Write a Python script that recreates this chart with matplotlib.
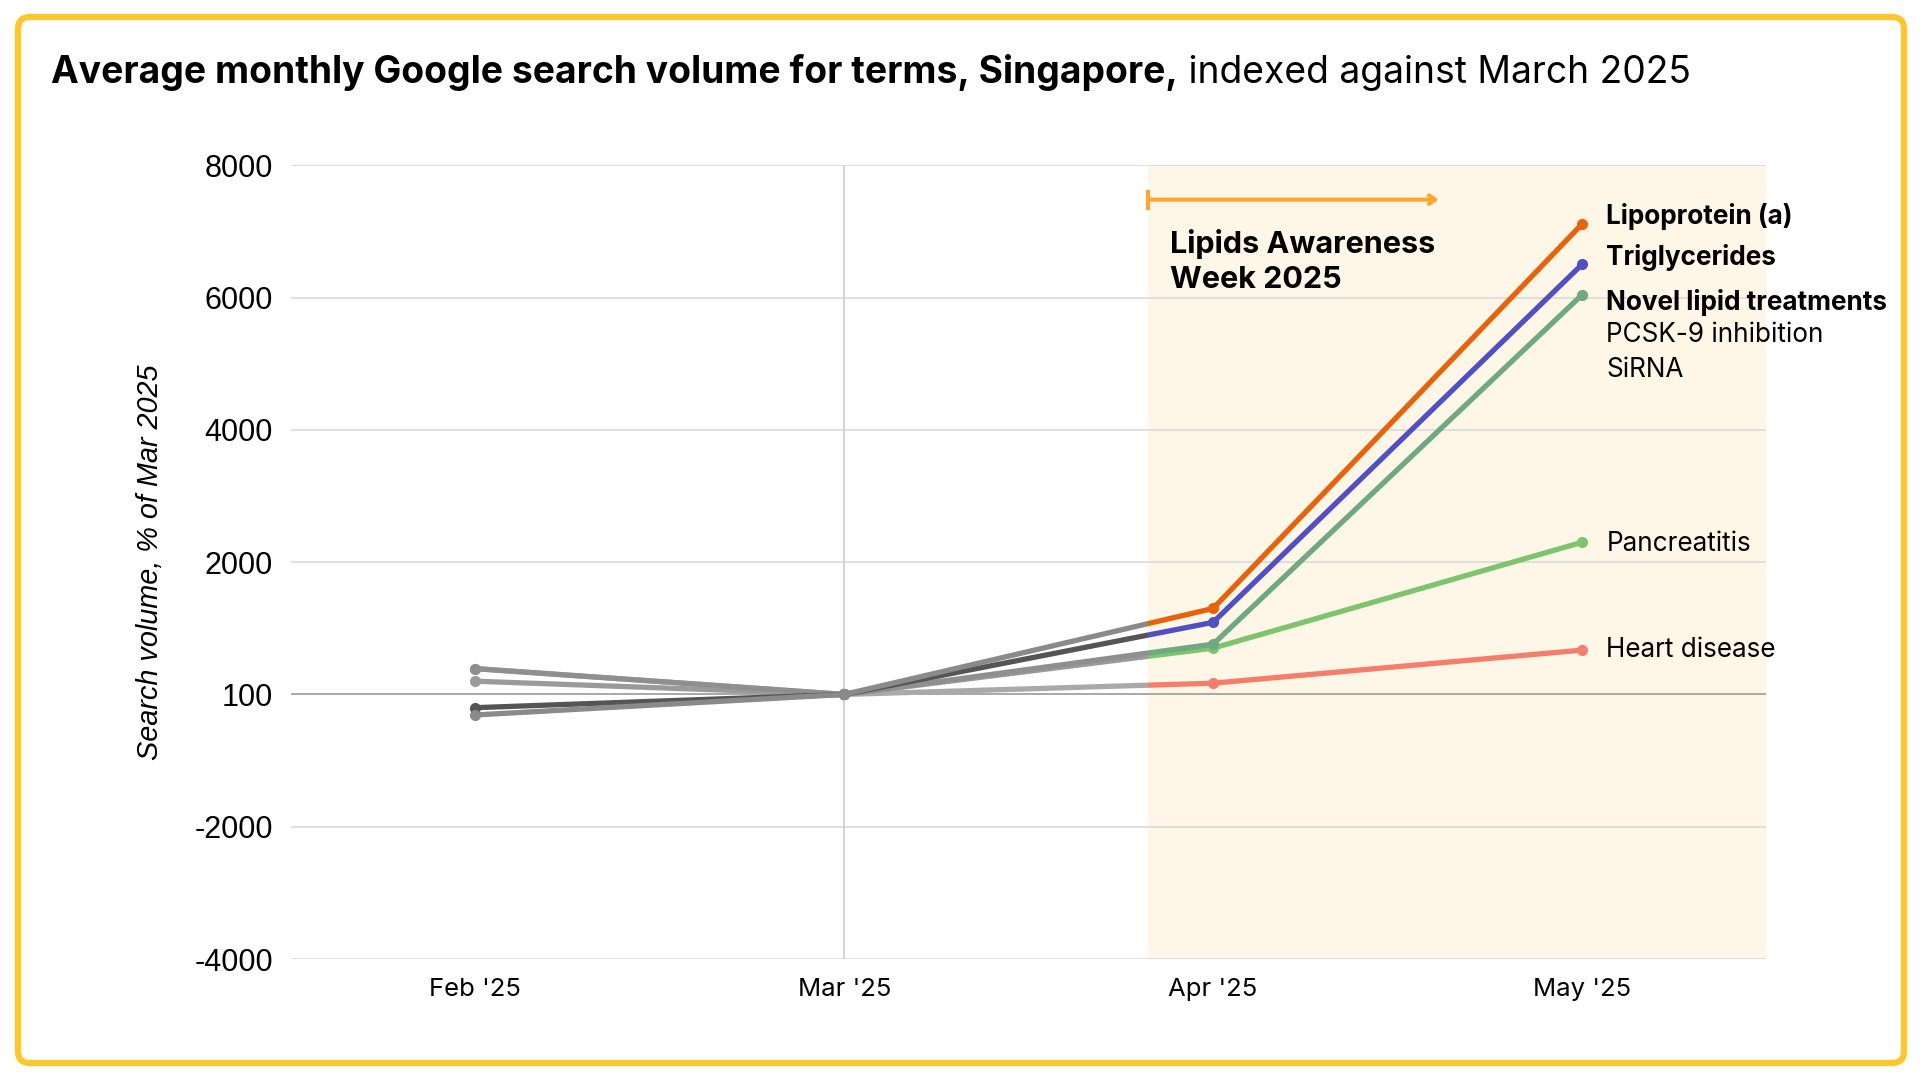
import matplotlib
matplotlib.use('Agg')
import matplotlib.pyplot as plt
from matplotlib.patches import Rectangle, FancyBboxPatch

plt.rcParams['font.family'] = ['Inter', 'DejaVu Sans']

# data (index vs March 2025, Mar = 0 on the plot)
months = ["Feb '25", "Mar '25", "Apr '25", "May '25"]
yticks = [-4000, -2000, 0, 2000, 4000, 6000, 8000]
ytick_labels = ["-4000", "-2000", "100", "2000", "4000", "6000", "8000"]

lipoprotein = [-310, 0, 1300, 7110]
triglycerides = [-200, 0, 1090, 6500]
novel_lipid = [390, 0, 760, 6040]
pancreatitis = [200, 0, 700, 2300]
heart_disease = [390, 0, 170, 670]

series = [
    ("Lipoprotein (a)", lipoprotein, '#E8620C', '#8a8a8a'),
    ("Triglycerides", triglycerides, '#5050C4', '#555555'),
    ("Novel lipid treatments", novel_lipid, '#6FA882', '#8f8f8f'),
    ("Pancreatitis", pancreatitis, '#7DC46C', '#9a9a9a'),
    ("Heart disease", heart_disease, '#F47D6B', '#a9a9a9'),
]

week_start = 1.824
x = list(range(len(months)))

fig = plt.figure(figsize=(19.2, 10.8), dpi=100)
ax = fig.add_axes([0.1516, 0.112, 0.7684, 0.735])
ax.set_xlim(-0.5, 3.5)
ax.set_ylim(-4000, 8000)

# shaded awareness week
ax.axvspan(week_start, 3.5, color='#FEF6E6', zorder=0, lw=0)

# grid
for yv in yticks:
    ax.axhline(yv, color='#9a9a9a' if yv == 0 else '#dadada', lw=1.2, zorder=1)
ax.axvline(1, color='#cccccc', lw=1.2, zorder=1)

for name, vals, col, grey in reversed(series):
    left = Rectangle((-0.5, -4000), week_start + 0.5, 12000, transform=ax.transData)
    right = Rectangle((week_start, -4000), 3.5 - week_start, 12000, transform=ax.transData)
    g, = ax.plot(x, vals, color=grey, lw=3.8, zorder=3, solid_capstyle='butt')
    g.set_clip_path(left)
    c, = ax.plot(x, vals, color=col, lw=3.8, zorder=4, solid_capstyle='butt')
    c.set_clip_path(right)
    ax.plot(x[:2], vals[:2], 'o', color=grey, ms=7, zorder=5)
    ax.plot(x[2:], vals[2:], 'o', color=col, ms=7, zorder=5)

# labels on the right
lx = 3.066
fs = 18.8
ax.text(lx, 7220, "Lipoprotein (a)", fontsize=fs, fontweight='bold', va='center')
ax.text(lx, 6610, "Triglycerides", fontsize=fs, fontweight='bold', va='center')
ax.text(lx, 5930, "Novel lipid treatments", fontsize=fs, fontweight='bold', va='center')
ax.text(lx, 5430, "PCSK-9 inhibition", fontsize=fs, va='center')
ax.text(lx, 4910, "SiRNA", fontsize=fs, va='center')
ax.text(lx, 2280, "Pancreatitis", fontsize=fs, va='center')
ax.text(lx, 670, "Heart disease", fontsize=fs, va='center')

# awareness week arrow + label
ax.annotate('', xy=(2.612, 7480), xytext=(week_start, 7480),
            arrowprops=dict(arrowstyle='->,head_length=0.45,head_width=0.3',
                            color='#FFA630', lw=3, shrinkA=0, shrinkB=0), zorder=6)
ax.plot([week_start], [7480], marker='|', ms=14, mew=3, color='#FFA630', zorder=6)
ax.text(1.884, 7030, "Lipids Awareness\nWeek 2025", fontsize=22, fontweight='bold',
        va='top', ha='left', linespacing=1.3)

for s in ax.spines.values():
    s.set_visible(False)
ax.tick_params(length=0, pad=14)
ax.set_xticks(x)
ax.set_xticklabels(months, fontsize=18.5)
ax.set_yticks(yticks)
ax.set_yticklabels(ytick_labels, fontsize=22, family=['Liberation Sans', 'DejaVu Sans'])
ax.tick_params(axis='y', pad=13)
ax.set_ylabel("Search volume, % of Mar 2025", fontsize=20.8, style='italic',
              family=['Liberation Sans', 'DejaVu Sans'], labelpad=22)

# title
t1 = fig.text(0.0266, 0.923, "Average monthly Google search volume for terms, Singapore,",
              fontsize=26.8, fontweight='bold', va='baseline', ha='left')
ax.annotate(" indexed against March 2025", xy=(1, 0), xycoords=t1, fontsize=26.8,
            va='bottom', ha='left', annotation_clip=False)

# yellow frame
frame = FancyBboxPatch((0.18, 0.17), 18.86, 10.46, boxstyle='round,pad=0,rounding_size=0.12',
                       transform=fig.dpi_scale_trans, fill=False, ec='#FFC72C', lw=4.5)
fig.patches.append(frame)

fig.savefig('out.png', dpi=100)
